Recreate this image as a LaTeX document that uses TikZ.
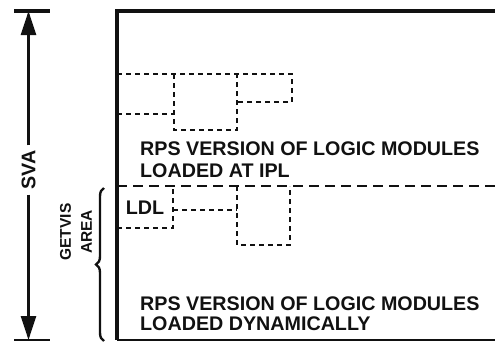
\documentclass[tikz,border=0pt]{standalone}
\usepackage{fontspec}
\setmainfont{Liberation Sans}
\usetikzlibrary{arrows.meta,decorations.pathreplacing}
\definecolor{Ink}{HTML}{111111}
\tikzset{
  outerframe/.style={draw=Ink,line width=4pt},
  baseline rule/.style={draw=Ink,line width=1.4pt},
  dashline/.style={draw=Ink,line width=2.7pt,dash pattern=on 5pt off 4pt},
  longdash/.style={draw=Ink,line width=2.7pt,dash pattern=on 10pt off 6pt},
  dimline/.style={draw=Ink,line width=2.6pt,-{Triangle[length=24pt,width=15pt]}},
  endbar/.style={draw=Ink,line width=3.6pt},
  txt/.style={font=\bfseries\fontsize{19.7}{22}\selectfont,text=Ink,inner sep=0pt,align=left},
  sidetxt/.style={font=\bfseries\fontsize{15.5}{21}\selectfont,text=Ink,inner sep=0pt,align=center},
  brace/.style={decorate,decoration={brace,amplitude=8pt},draw=Ink,line width=2.4pt}
}
\begin{document}
\begin{tikzpicture}[x=1pt,y=1pt]
    \useasboundingbox (0,0) rectangle (495,341);
    \draw[outerframe] (495,330) -- (117,330) -- (117,1);
    \draw[baseline rule] (117,1) -- (495,1);
    \coordinate (svatop) at (28.5,330);
    \coordinate (svabot) at (28.5,1);
    \node[txt,rotate=90,inner sep=5pt] (sva) at (28.5,171) {SVA};
    \draw[dimline] (sva.east) -- (svatop);
    \draw[dimline] (sva.west) -- (svabot);
    \draw[endbar] (14,330) -- (50,330);
    \draw[baseline rule] (14,1) -- (50,1);
    \draw[dashline] (117,267) -- (292,267) -- (292,239) -- (237,239);
    \draw[dashline] (117,227) -- (174,227);
    \draw[dashline] (174,267) -- (174,211) -- (237,211) -- (237,267);
    \node[txt,anchor=north west] (ipltext) at (140,199) {RPS VERSION OF LOGIC MODULES\\LOADED AT IPL};
    \draw[longdash] (117,155) -- (495,155);
    \node[txt] (ldl) at (145,133) {LDL};
    \draw[dashline] (117,113) -- (173,113) -- (173,155);
    \draw[dashline] (173,131) -- (237,131);
    \draw[dashline] (237,155) -- (237,96) -- (290,96) -- (290,155);
    \node[txt,anchor=north west,font=\bfseries\fontsize{19.7}{19.5}\selectfont] (dyntext) at (140,44) {RPS VERSION OF LOGIC MODULES\\LOADED DYNAMICALLY};
    \node[sidetxt,rotate=90] (getvis) at (76,109) {GETVIS\\AREA};
    \coordinate (gvbot) at (104,0);
    \coordinate (gvtop) at (104,153);
    \draw[brace] (gvbot) -- (gvtop);
  \end{tikzpicture}
\end{document}
